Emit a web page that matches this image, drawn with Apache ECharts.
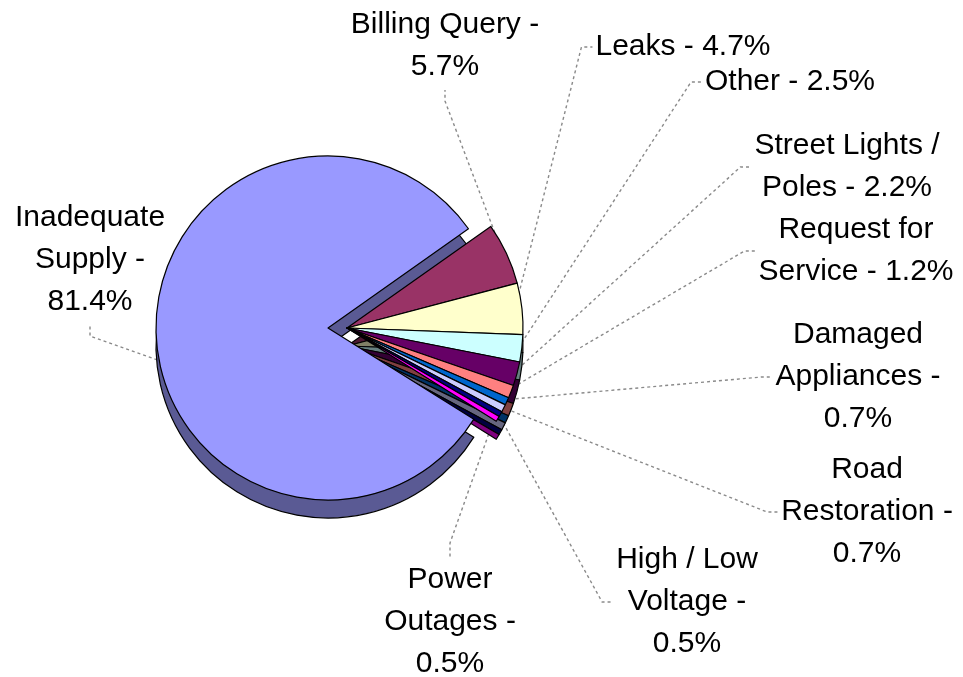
<!DOCTYPE html>
<html><head><meta charset="utf-8">
<script src="https://cdn.jsdelivr.net/npm/echarts@6/dist/echarts.min.js"></script>
<style>html,body{margin:0;padding:0;background:#fff}#c{width:963px;height:677px}</style>
</head><body><div id="c"></div>
<script>
// ---- data ----
const categories = ['Inadequate Supply','Billing Query','Leaks','Other','Street Lights / Poles','Request for Service','Damaged Appliances','Road Restoration','High / Low Voltage','Power Outages'];
const values = [81.4, 5.7, 4.7, 2.5, 2.2, 1.2, 0.7, 0.7, 0.5, 0.5];
const labelNames = ['Inadequate\nSupply -','Billing Query -','Leaks -','Other -','Street Lights /\nPoles -','Request for\nService -','Damaged\nAppliances -','Road\nRestoration -','High / Low\nVoltage -','Power\nOutages -'];
const labelJoin = ['\n','\n',' ',' ',' ',' ','\n','\n','\n','\n'];

// ---- layout / style ----
const colors = ['#9999ff','#993366','#ffffcc','#ccffff','#660066','#ff8080','#0066cc','#ccccff','#000080','#ff00ff'];
const sideColors = ['#5a5a94','#4d1a33','#808066','#668080','#330033','#804040','#003366','#666680','#000040','#800080'];
const labelPos = [[90,260],[445,46],[683,47],[790,82],[847,167],[856,251],[858,377],[867,512],[687,602],[450,622]];
const labelSide = ['bottom','bottom','left','left','left','left','left','left','left','top'];
const anchorShift = [10, 0, 3, 0, 0, 0, 0, 0, 0, 0]; // degrees, leader-line anchor tweak
const START = 328;
const bigC = [328, 328], bigR = 172;
const smallC = [347, 328], smallR = 176;
const DEPTH = 18;

const total = values.reduce((a,b)=>a+b,0);
const midAngle = [];
{ let acc = 0; values.forEach(v => { midAngle.push(START - (acc + v/2)/total*360); acc += v; }); }

function labelText(i){ return labelNames[i] + labelJoin[i] + values[i].toFixed(1) + '%'; }

function makeLayout(c, R){
  return function(p){
    const i = p.dataIndex;
    const [x, y] = labelPos[i];
    const w = p.labelRect.width, h = p.labelRect.height;
    const a = (midAngle[i] + anchorShift[i])*Math.PI/180;
    const ex = c[0] + R*0.98*Math.cos(a), ey = c[1] - R*0.98*Math.sin(a);
    let ax, ay, bx, by;
    if (labelSide[i] === 'bottom') { ax = x; ay = y + h/2 + 2; bx = x; by = ay + 11; }
    else if (labelSide[i] === 'top') { ax = x; ay = y - h/2 - 2; bx = x; by = ay - 14; }
    else { ax = x - w/2 - 3; ay = y; bx = ax - 11; by = y; }
    return { x, y, align: 'center', verticalAlign: 'middle', labelLinePoints: [[ex,ey],[bx,by],[ax,ay]] };
  };
}

function buildData(showFn, colorArr, withLabel){
  return values.map((v,i)=>{
    const show = showFn(i);
    return {
      name: categories[i], value: v,
      itemStyle: show ? {color: colorArr[i], borderColor:'#000', borderWidth: 1.2} : {color:'rgba(0,0,0,0)', borderWidth:0},
      label: {show: withLabel && show},
      labelLine: {show: withLabel && show}
    };
  });
}

const labelStyle = {
  position: 'outside', color:'#000', fontSize: 30, lineHeight: 42,
  fontFamily: '"Liberation Sans", Arial, sans-serif',
  formatter: p => labelText(p.dataIndex)
};
const lineStyle = {show: true, lineStyle: {color:'#8a8a8a', width: 1.4, type: [3,3]}};

const base = {type:'pie', startAngle: START, clockwise: true, silent: true, animation: false, avoidLabelOverlap: false, emphasis:{disabled:true}};

const option = {
  backgroundColor: '#fff',
  series: [
    Object.assign({}, base, {center:[bigC[0], bigC[1]+DEPTH], radius: bigR, label:{show:false}, labelLine:{show:false}, data: buildData(i=>i===0, sideColors, false)}),
    Object.assign({}, base, {center:[smallC[0], smallC[1]+DEPTH], radius: smallR, label:{show:false}, labelLine:{show:false}, data: buildData(i=>i!==0, sideColors, false)}),
    Object.assign({}, base, {center: bigC, radius: bigR, label: labelStyle, labelLine: lineStyle, labelLayout: makeLayout(bigC, bigR), data: buildData(i=>i===0, colors, true)}),
    Object.assign({}, base, {center: smallC, radius: smallR, label: labelStyle, labelLine: lineStyle, labelLayout: makeLayout(smallC, smallR), data: buildData(i=>i!==0, colors, true)})
  ]
};
const chart = echarts.init(document.getElementById('c'), null, {renderer:'canvas'});
chart.setOption(option);
</script></body></html>
